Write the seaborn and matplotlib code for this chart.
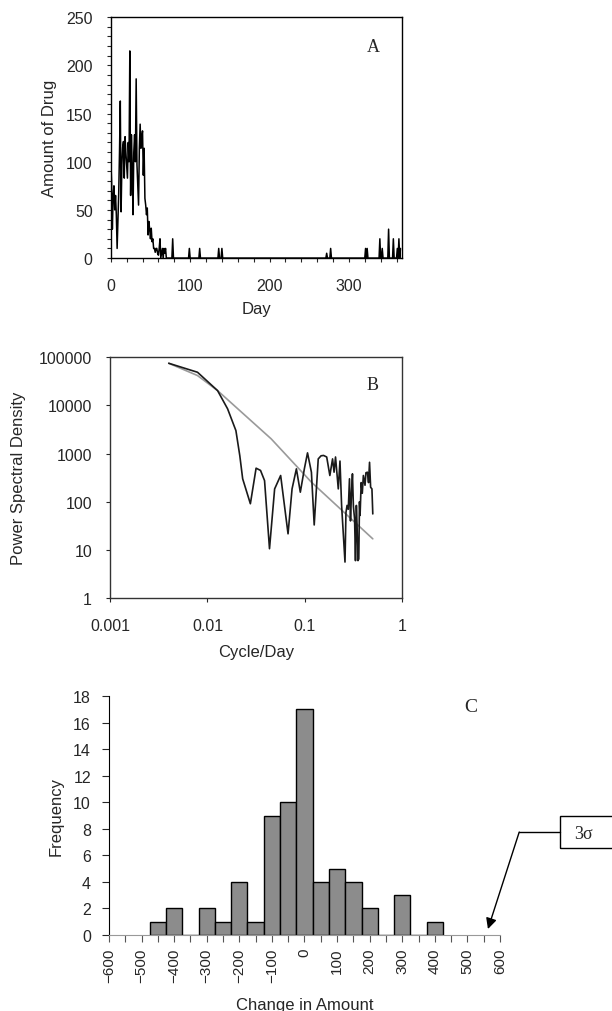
import numpy as np
import matplotlib
matplotlib.use("Agg")
import matplotlib.pyplot as plt
from matplotlib.patches import Rectangle
from matplotlib.lines import Line2D
from matplotlib.ticker import MultipleLocator, NullLocator, FixedLocator
import seaborn as sns

# ---------------------------------------------------------------------------
# Data
# ---------------------------------------------------------------------------

# Panel A: daily amount, days 0..72 (rest of the year mostly zero)
early_amount = [102, 80, 30, 65, 75, 50, 65, 45, 10, 40,
                67, 110, 163, 48, 97, 115, 121, 83, 126, 110,
                97, 83, 120, 100, 215, 65, 128, 95, 45, 110,
                128, 100, 186, 97, 75, 55, 114, 139, 114, 125,
                132, 86, 114, 62, 55, 45, 52, 24, 38, 30,
                20, 31, 17, 20, 10, 10, 6, 10, 10, 5,
                3, 10, 20, 0, 5, 10, 0, 10, 5, 10,
                0, 0, 0]
late_days = [78, 99, 112, 136, 140, 272, 277, 321, 323, 339, 342, 350, 356, 361, 363, 365]
late_amount = [20, 10, 10, 10, 10, 5, 10, 10, 10, 20, 10, 30, 20, 10, 20, 10]
n_days = 366

# Panel B: power spectrum
psd_freq = [0.0040, 0.0079, 0.0127, 0.0161, 0.0196, 0.0215, 0.023, 0.0276, 0.0316,
            0.0351, 0.0386, 0.0434, 0.049, 0.0565, 0.0673, 0.074, 0.082, 0.090,
            0.099, 0.1067, 0.117, 0.125, 0.1375, 0.147, 0.156, 0.168, 0.181,
            0.193, 0.200, 0.207, 0.221, 0.230, 0.239, 0.259, 0.265, 0.272, 0.28,
            0.288, 0.295, 0.302, 0.309, 0.316, 0.325, 0.332, 0.339, 0.345, 0.352,
            0.359, 0.365, 0.37, 0.38, 0.39, 0.40, 0.416, 0.425, 0.44, 0.452,
            0.463, 0.475, 0.49, 0.50]
psd_val = [75000, 48800, 20300, 8500, 3000, 900, 300, 91, 498,
           447, 275, 10.6, 185, 351, 21.6, 185, 482, 158,
           482, 1035, 411, 33, 776, 900, 915, 850, 351,
           776, 411, 850, 185, 700, 84, 5.6, 60, 84, 70,
           300, 40, 150, 380, 80, 44, 6, 84, 30, 6,
           6.5, 100, 52, 250, 150, 351, 220, 400, 411, 250,
           660, 200, 185, 56]
# fitted spectrum (grey curve)
fit_freq = [0.0040, 0.0079, 0.0127, 0.0452, 0.117, 0.50]
fit_val = [75000, 41700, 20300, 2020, 255, 17]

# Panel C: histogram of changes (bin centres, width 50)
bin_centers = [-450, -400, -300, -250, -200, -150, -100, -50, 0, 50, 100, 150, 200, 300, 400]
bin_counts = [1, 2, 2, 1, 4, 1, 9, 10, 17, 4, 5, 4, 2, 3, 1]

# ---------------------------------------------------------------------------
sns.set_style("ticks")
plt.rcParams["font.family"] = ["Liberation Sans", "DejaVu Sans"]
TICK_FS = 11.5
LABEL_FS = 12
SERIF = ["Liberation Serif", "DejaVu Serif"]

fig = plt.figure(figsize=(6.12, 10.12), dpi=100)

# ---------------------------------------------------------------------------
# A. Amount of drug per day
# ---------------------------------------------------------------------------
day = np.arange(n_days)
amount = np.zeros(n_days)
amount[:len(early_amount)] = early_amount
amount[late_days] = late_amount

axA = fig.add_axes([0.181, 0.744, 0.476, 0.238])
sns.lineplot(x=day, y=amount, color="black", lw=1.1, ax=axA)
axA.set_xlim(0, 367)
axA.set_ylim(0, 250)
axA.xaxis.set_major_locator(MultipleLocator(100))
axA.xaxis.set_minor_locator(MultipleLocator(20))
axA.yaxis.set_major_locator(MultipleLocator(50))
axA.yaxis.set_minor_locator(MultipleLocator(10))
axA.tick_params(which="both", direction="out", length=3, width=0.8,
                labelsize=TICK_FS)
axA.tick_params(axis="x", which="both", pad=11)
axA.tick_params(axis="y", which="both", pad=10)
axA.set_xlabel("Day", fontsize=LABEL_FS, va="center")
axA.set_ylabel("Amount of Drug", fontsize=LABEL_FS, va="center")
axA.xaxis.set_label_coords(0.5, -0.21)
axA.yaxis.set_label_coords(-0.21, 0.5)
axA.text(0.90, 0.88, "A", transform=axA.transAxes, fontsize=13,
         family=SERIF, ha="center", va="center")
for sp in axA.spines.values():
    sp.set_color("black")
    sp.set_linewidth(1.0)

# ---------------------------------------------------------------------------
# B. Power spectral density
# ---------------------------------------------------------------------------
axB = fig.add_axes([0.180, 0.408, 0.477, 0.238])
sns.lineplot(x=fit_freq, y=fit_val, color="#9a9a9a", lw=1.2, ax=axB)
sns.lineplot(x=psd_freq, y=psd_val, color="#1a1a1a", lw=1.2, ax=axB)
axB.set_xscale("log")
axB.set_yscale("log")
axB.set_xlim(0.001, 1)
axB.set_ylim(1, 100000)
axB.xaxis.set_major_locator(FixedLocator([0.001, 0.01, 0.1, 1]))
axB.yaxis.set_major_locator(FixedLocator([1, 10, 100, 1000, 10000, 100000]))
axB.xaxis.set_minor_locator(NullLocator())
axB.yaxis.set_minor_locator(NullLocator())
axB.set_xticklabels(["0.001", "0.01", "0.1", "1"])
axB.set_yticklabels(["1", "10", "100", "1000", "10000", "100000"])
axB.tick_params(which="both", direction="out", length=3, width=0.8,
                labelsize=TICK_FS)
axB.tick_params(axis="x", pad=11)
axB.tick_params(axis="y", pad=10)
axB.set_xlabel("Cycle/Day", fontsize=LABEL_FS, va="center")
axB.set_ylabel("Power Spectral Density", fontsize=LABEL_FS, va="center")
axB.xaxis.set_label_coords(0.5, -0.22)
axB.yaxis.set_label_coords(-0.315, 0.5)
axB.text(0.90, 0.888, "B", transform=axB.transAxes, fontsize=13,
         family=SERIF, ha="center", va="center")
for sp in axB.spines.values():
    sp.set_color("#333333")
    sp.set_linewidth(1.0)

# ---------------------------------------------------------------------------
# C. Histogram of changes
# ---------------------------------------------------------------------------
axC = fig.add_axes([0.178, 0.0751, 0.639, 0.236])
sns.histplot(x=bin_centers, weights=bin_counts, binwidth=50, binrange=(-475, 425),
             color="#8c8c8c", edgecolor="black", linewidth=1.0, alpha=1.0, ax=axC)
axC.set_xlim(-600, 600)
axC.set_ylim(0, 18)
axC.xaxis.set_major_locator(MultipleLocator(100))
axC.xaxis.set_minor_locator(MultipleLocator(50))
axC.yaxis.set_major_locator(MultipleLocator(2))
axC.tick_params(which="both", direction="out", length=5, width=0.8,
                labelsize=TICK_FS)
axC.tick_params(axis="x", which="both", rotation=90, pad=4, color="#555555",
                labelsize=11)
axC.tick_params(axis="y", pad=8)
axC.set_xlabel("Change in Amount", fontsize=LABEL_FS, va="center")
axC.set_ylabel("Frequency", fontsize=LABEL_FS, va="center")
axC.xaxis.set_label_coords(0.5, -0.29)
axC.yaxis.set_label_coords(-0.134, 0.5)
sns.despine(ax=axC)
axC.spines["left"].set_color("black")
axC.spines["bottom"].set_color("#999999")
axC.text(0.925, 0.958, "C", transform=axC.transAxes, fontsize=14,
         family=SERIF, ha="center", va="center")

# 3-sigma call-out: box, elbow line and arrow
knee = (659, 7.76)
axC.annotate("", xy=(563, 0.45), xytext=knee, annotation_clip=False,
             arrowprops=dict(arrowstyle="-|>", color="black", lw=1.0,
                             mutation_scale=16, shrinkA=0, shrinkB=0))
axC.add_line(Line2D([knee[0], 783], [knee[1], knee[1]], color="black",
                    lw=1.0, clip_on=False))
fig.add_artist(Rectangle((560 / 612, 1 - 849 / 1012), 100 / 612, 32 / 1012,
                         transform=fig.transFigure, fill=False,
                         edgecolor="black", lw=1.0))
fig.text(583 / 612, 1 - 835 / 1012, "3σ", fontsize=13, family=SERIF,
         ha="center", va="center")

fig.savefig("out.png", dpi=100)
